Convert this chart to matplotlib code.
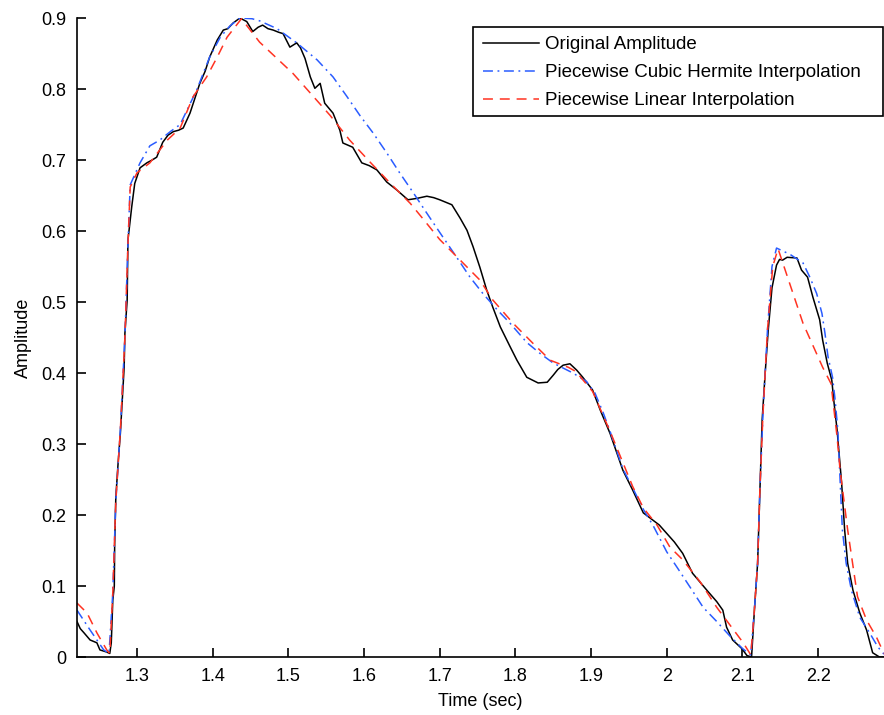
# plot.py
# Original amplitude vs piecewise cubic Hermite / piecewise linear interpolation

import numpy as np
import matplotlib
matplotlib.use("Agg")
import matplotlib.pyplot as plt
from matplotlib.patches import Rectangle

# original amplitude
t_orig = [1.2207, 1.225, 1.230, 1.238, 1.247, 1.251, 1.260, 1.264, 1.266, 1.268,
          1.270, 1.2705, 1.272, 1.275, 1.278, 1.280, 1.283, 1.284, 1.287, 1.288,
          1.293, 1.297, 1.304, 1.313, 1.320, 1.326, 1.334, 1.341, 1.348, 1.355,
          1.361, 1.370, 1.383, 1.390, 1.396, 1.406, 1.414, 1.420, 1.427, 1.436,
          1.445, 1.453, 1.460, 1.466, 1.473, 1.480, 1.487, 1.493, 1.502, 1.511,
          1.516, 1.522, 1.529, 1.535, 1.542, 1.548, 1.559, 1.568, 1.572, 1.585,
          1.597, 1.607, 1.617, 1.630, 1.643, 1.658, 1.670, 1.683, 1.692, 1.700,
          1.716, 1.727, 1.736, 1.744, 1.753, 1.762, 1.770, 1.780, 1.793, 1.802,
          1.815, 1.830, 1.842, 1.850, 1.856, 1.863, 1.872, 1.881, 1.889, 1.902,
          1.912, 1.925, 1.942, 1.955, 1.969, 1.980, 1.990, 2.000, 2.010, 2.021,
          2.034, 2.053, 2.066, 2.074, 2.079, 2.087, 2.099, 2.106, 2.112, 2.116,
          2.120, 2.123, 2.126, 2.130, 2.134, 2.139, 2.145, 2.149, 2.153, 2.159,
          2.172, 2.178, 2.186, 2.193, 2.202, 2.206, 2.212, 2.218, 2.221, 2.225,
          2.228, 2.231, 2.235, 2.239, 2.246, 2.255, 2.264, 2.272, 2.281, 2.287]
amp_orig = [0.050, 0.040, 0.034, 0.024, 0.020, 0.010, 0.007, 0.005, 0.020, 0.080,
            0.100, 0.160, 0.225, 0.273, 0.315, 0.352, 0.408, 0.456, 0.503, 0.587,
            0.634, 0.667, 0.689, 0.696, 0.700, 0.704, 0.725, 0.735, 0.740, 0.742,
            0.745, 0.766, 0.808, 0.825, 0.845, 0.869, 0.883, 0.885, 0.893, 0.900,
            0.895, 0.881, 0.887, 0.890, 0.885, 0.883, 0.880, 0.878, 0.859, 0.865,
            0.858, 0.843, 0.817, 0.801, 0.808, 0.780, 0.766, 0.742, 0.724, 0.718,
            0.696, 0.692, 0.686, 0.669, 0.658, 0.644, 0.646, 0.649, 0.647, 0.644,
            0.637, 0.618, 0.601, 0.578, 0.549, 0.517, 0.493, 0.465, 0.437, 0.418,
            0.394, 0.386, 0.387, 0.397, 0.405, 0.411, 0.413, 0.404, 0.394, 0.376,
            0.348, 0.315, 0.263, 0.235, 0.203, 0.194, 0.186, 0.174, 0.162, 0.146,
            0.118, 0.094, 0.078, 0.066, 0.042, 0.024, 0.012, 0.002, 0.000, 0.070,
            0.132, 0.231, 0.334, 0.400, 0.460, 0.520, 0.552, 0.560, 0.559, 0.563,
            0.562, 0.545, 0.535, 0.507, 0.475, 0.446, 0.414, 0.390, 0.358, 0.320,
            0.282, 0.245, 0.179, 0.132, 0.094, 0.062, 0.038, 0.006, 0.000, 0.000]

# piecewise cubic Hermite curve
t_herm = [1.2207, 1.238, 1.256, 1.263, 1.268, 1.272, 1.278, 1.284, 1.288, 1.291,
          1.304, 1.317, 1.330, 1.344, 1.357, 1.379, 1.396, 1.410, 1.423, 1.436,
          1.452, 1.462, 1.485, 1.511, 1.538, 1.559, 1.577, 1.595, 1.612, 1.630,
          1.647, 1.665, 1.683, 1.700, 1.723, 1.740, 1.757, 1.776, 1.793, 1.815,
          1.832, 1.850, 1.863, 1.876, 1.894, 1.905, 1.916, 1.925, 1.942, 1.955,
          1.969, 1.982, 2.000, 2.015, 2.031, 2.048, 2.066, 2.083, 2.100, 2.111,
          2.116, 2.120, 2.123, 2.127, 2.133, 2.139, 2.145, 2.163, 2.180, 2.189,
          2.198, 2.205, 2.209, 2.213, 2.219, 2.222, 2.226, 2.228, 2.230, 2.232,
          2.237, 2.244, 2.255, 2.268, 2.279, 2.287]
amp_herm = [0.066, 0.038, 0.010, 0.005, 0.090, 0.220, 0.320, 0.450, 0.580, 0.665,
            0.696, 0.720, 0.728, 0.740, 0.750, 0.799, 0.845, 0.873, 0.889, 0.900,
            0.899, 0.896, 0.885, 0.865, 0.841, 0.817, 0.790, 0.762, 0.738, 0.710,
            0.682, 0.654, 0.625, 0.598, 0.562, 0.535, 0.512, 0.489, 0.470, 0.443,
            0.428, 0.414, 0.407, 0.400, 0.388, 0.372, 0.344, 0.318, 0.265, 0.238,
            0.208, 0.185, 0.148, 0.124, 0.098, 0.070, 0.050, 0.030, 0.012, 0.003,
            0.070, 0.132, 0.235, 0.340, 0.460, 0.550, 0.576, 0.567, 0.555, 0.535,
            0.512, 0.484, 0.456, 0.423, 0.394, 0.366, 0.320, 0.273, 0.225, 0.179,
            0.132, 0.094, 0.056, 0.034, 0.014, 0.004]

# piecewise linear curve
t_lin = [1.2207, 1.234, 1.247, 1.260, 1.264, 1.268, 1.272, 1.278, 1.284, 1.288,
         1.291, 1.300, 1.317, 1.340, 1.357, 1.374, 1.392, 1.406, 1.419, 1.438,
         1.462, 1.485, 1.506, 1.555, 1.581, 1.608, 1.634, 1.661, 1.678, 1.700,
         1.727, 1.753, 1.770, 1.797, 1.823, 1.846, 1.870, 1.880, 1.902, 1.925,
         1.955, 1.969, 1.987, 2.004, 2.021, 2.044, 2.066, 2.087, 2.101, 2.111,
         2.116, 2.120, 2.123, 2.127, 2.133, 2.140, 2.147, 2.180, 2.206, 2.217,
         2.225, 2.229, 2.239, 2.252, 2.264, 2.277, 2.287]
amp_lin = [0.076, 0.062, 0.034, 0.010, 0.005, 0.090, 0.220, 0.320, 0.450, 0.580,
           0.662, 0.682, 0.696, 0.728, 0.745, 0.789, 0.817, 0.845, 0.873, 0.899,
           0.866, 0.843, 0.822, 0.763, 0.728, 0.697, 0.668, 0.639, 0.617, 0.588,
           0.559, 0.531, 0.503, 0.470, 0.442, 0.418, 0.408, 0.402, 0.374, 0.318,
           0.240, 0.210, 0.186, 0.155, 0.137, 0.106, 0.070, 0.040, 0.020, 0.003,
           0.070, 0.132, 0.235, 0.340, 0.460, 0.550, 0.575, 0.470, 0.408, 0.385,
           0.310, 0.263, 0.179, 0.085, 0.052, 0.028, 0.005]

x_ticks = [1.3, 1.4, 1.5, 1.6, 1.7, 1.8, 1.9, 2.0, 2.1, 2.2]
x_tick_labels = ["1.3", "1.4", "1.5", "1.6", "1.7", "1.8", "1.9", "2", "2.1", "2.2"]
y_ticks = [0, 0.1, 0.2, 0.3, 0.4, 0.5, 0.6, 0.7, 0.8, 0.9]
y_tick_labels = ["0", "0.1", "0.2", "0.3", "0.4", "0.5", "0.6", "0.7", "0.8", "0.9"]

plt.rcParams["font.family"] = ["Liberation Sans", "DejaVu Sans"]
plt.rcParams["font.size"] = 13

fig = plt.figure(figsize=(8.84, 7.15), dpi=100)
ax = fig.add_axes([0.0871, 0.0811, 0.9129, 0.8937])

ax.plot(t_orig, amp_orig, "-", color="black", lw=1.1, label="Original Amplitude")
ax.plot(t_herm, amp_herm, "-.", color="#2a5cff", lw=1.1, dashes=(6.5, 3, 1.2, 3),
        label="Piecewise Cubic Hermite Interpolation")
ax.plot(t_lin, amp_lin, "--", color="#ff3322", lw=1.1, dashes=(6.5, 4.5),
        label="Piecewise Linear Interpolation")

ax.set_xlim(1.2207, 2.287)
ax.set_ylim(0, 0.9)
ax.set_xticks(x_ticks)
ax.set_xticklabels(x_tick_labels)
ax.set_yticks(y_ticks)
ax.set_yticklabels(y_tick_labels)
ax.tick_params(direction="in", length=6.5, width=1.2, pad=8)
for side in ["top", "right"]:
    ax.spines[side].set_visible(False)
for side in ["left", "bottom"]:
    ax.spines[side].set_linewidth(1.2)

ax.set_xlabel("Time (sec)", labelpad=6)
ax.set_ylabel("Amplitude", labelpad=6)

# legend frame drawn separately (MATLAB box is wider than the text)
W, H = 884, 715
frame = Rectangle((473 / W, 1 - 116 / H), 410 / W, 89 / H, transform=fig.transFigure,
                  facecolor="white", edgecolor="black", lw=1.2, zorder=5, clip_on=False)
ax.add_patch(frame)

leg = ax.legend(loc="upper left", bbox_to_anchor=(483 / W, 1 - 36 / H),
                bbox_transform=fig.transFigure, borderaxespad=0, borderpad=0,
                frameon=False, fontsize=13.5,
                handlelength=3.0, handletextpad=0.3, labelspacing=0.58)
leg.set_zorder(6)

fig.savefig("out.png", dpi=100)
